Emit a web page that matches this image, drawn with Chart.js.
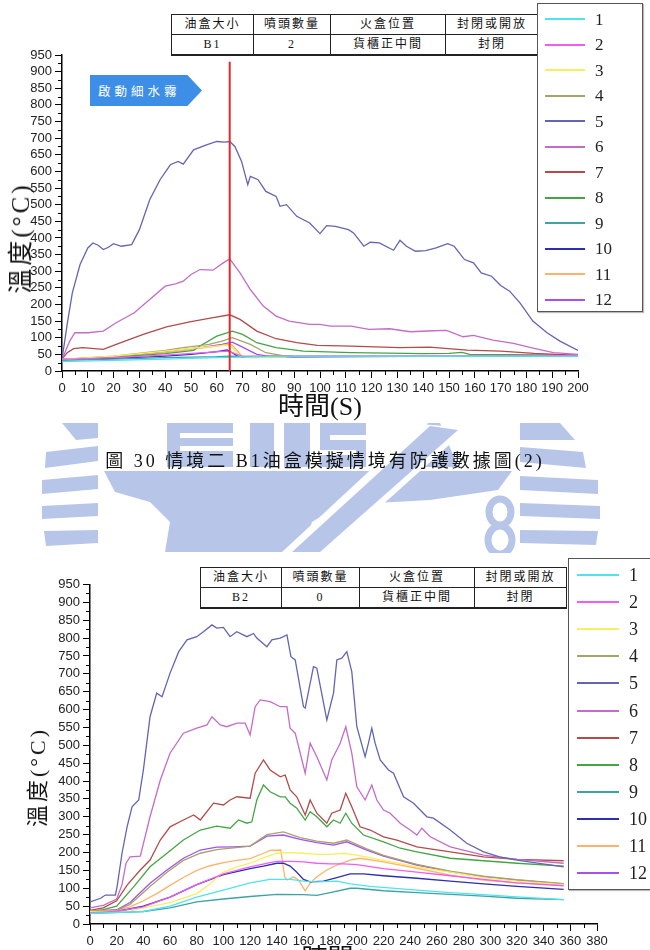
<!DOCTYPE html>
<html>
<head>
<meta charset="utf-8">
<script src="https://cdn.jsdelivr.net/npm/chart.js@4.4.1/dist/chart.umd.min.js"></script>
<style>
  html, body { margin: 0; padding: 0; background: #fff; width: 650px; height: 950px; overflow: hidden; }
  canvas { position: absolute; left: 0; }
  #wm { top: 0; z-index: 0; }
  #c1 { top: 0; z-index: 1; }
  #c2 { top: 540px; z-index: 1; }
  table.info { position: absolute; z-index: 2; border-collapse: collapse; background: #fff;
    font-family: "Liberation Serif", "Noto Sans CJK TC", serif; font-size: 12px; color: #111; }
  table.info td { border: 1px solid #222; text-align: center; height: 19px; padding: 0; letter-spacing: 2px; line-height: 17px; }
  table.info tr:first-child td { border-top: 1.5px solid #222; }
  table.info tr:last-child td { border-bottom: 2px solid #222; }
  .legend { position: absolute; z-index: 2; border: 1.5px solid #555; background: #fff; box-shadow: 1px 1px 1px #bbb; }
  .legend .sw { position: absolute; height: 2px; }
  .legend .lab { position: absolute; font-family: "Liberation Serif", serif; color: #222; line-height: 1; }
  .ytitle { position: absolute; z-index: 2; white-space: nowrap; transform: translate(-50%, -50%) rotate(-90deg);
    font-family: "Liberation Serif", "Noto Sans CJK TC", serif; color: #111; letter-spacing: 3px; }
  #caption { position: absolute; z-index: 2; left: 0; top: 446px; width: 650px; text-align: center;
    font-family: "Liberation Serif", "Noto Sans CJK TC", serif; font-size: 18px; letter-spacing: 3px; color: #111; }
  #spray { position: absolute; z-index: 2; left: 90px; top: 75px; width: 112px; height: 31px; background: #3d8ee6;
    clip-path: polygon(0 0, 87% 0, 100% 50%, 87% 100%, 0 100%); color: #fff; font-family: "Noto Sans CJK TC", sans-serif;
    font-size: 12.5px; line-height: 31px; padding-left: 8px; box-sizing: border-box; letter-spacing: 4px; }
</style>
</head>
<body>
<canvas id="wm" width="650" height="950"></canvas>
<canvas id="c1" width="650" height="430"></canvas>
<canvas id="c2" width="650" height="440"></canvas>
<div id="spray">啟動細水霧</div>
<div id="caption">圖 30 情境二 B1油盒模擬情境有防護數據圖(2)</div>

<script>
// ---- data ----
const seriesNames = ['1', '2', '3', '4', '5', '6', '7', '8', '9', '10', '11', '12'];
const tableHead = ['油盒大小', '噴頭數量', '火盒位置', '封閉或開放'];
const b1Row = ['B1', '2', '貨櫃正中間', '封閉'];
const b2Row = ['B2', '0', '貨櫃正中間', '封閉'];
const sprayLine = [[65, 0], [65, 930]];

// B1 (time s, temperature C)
const b1s1 = [[0,28],[20,32],[40,36],[60,40],[65,41],[70,42],[90,45],[200,44]];
const b1s2 = [[0,35],[20,40],[40,48],[55,55],[64,60],[66,55],[70,44],[200,46]];
const b1s3 = [[0,35],[20,45],[40,60],[50,68],[60,75],[64,78],[66,70],[69,45],[72,40],[86,42],[90,45],[200,46]];
const b1s4 = [[0,35],[20,45],[40,62],[47,70],[57,80],[62,90],[66,100],[73,80],[79,55],[85,47],[200,46]];
const b1s5 = [[0,35],[2,140],[4,235],[7,320],[10,370],[12,385],[14,378],[16,365],[18,372],[20,383],[23,375],[27,380],
  [30,425],[34,515],[38,575],[42,620],[45,630],[47,622],[51,665],[56,680],[60,690],[63,688],[65,690],[67,675],
  [69.6,630],[72,560],[73,585],[76,575],[79,540],[83,525],[84.5,495],[87,500],[91,465],[96,445],[100,413],
  [102.6,437],[106,435],[111,425],[113,415],[117,375],[119.5,387],[123,385],[128.5,363],[131,393],[133.5,375],
  [137,360],[141,362],[145,370],[149.5,383],[152,375],[156,335],[159.5,325],[162.5,295],[166.5,285],[170,257],
  [173.5,240],[177.5,205],[182.5,150],[188,115],[193,90],[200,62]];
const b1s6 = [[0,35],[3,90],[5,115],[10,115],[16,120],[21,145],[28,175],[34,215],[40,255],[44,262],[47,270],[50,290],
  [53.5,305],[58.5,303],[62.5,325],[65,337],[69,295],[73,245],[78,195],[83,165],[88,150],[96,140],[100,140],[104,135],
  [112,135],[119,125],[127,127],[135,118],[144,121],[149,122],[155.5,103],[159.5,107],[167,93],[175,83],[183,68],
  [190.5,55],[200,50]];
const b1s7 = [[0,35],[2,55],[4.5,67],[8,70],[16,65],[21,80],[31.5,110],[40.5,133],[49.5,148],[57.5,159],[65,169],
  [69,155],[75.5,120],[83,97],[91,85],[99,77],[112,75],[131,70],[142.5,72],[157,63],[170,60],[183,53],[200,47]];
const b1s8 = [[0,35],[20,42],[40,52],[47,58],[51,62],[53.5,75],[60,105],[66,120],[70,110],[75.5,85],[83,70],[93.5,60],
  [112,55],[140,52],[150,53],[155,56],[158,50],[200,48]];
const b1s9 = [[0,32],[20,36],[40,40],[60,43],[65,45],[70,44],[200,46]];
const b1s10 = [[0,35],[20,38],[40,45],[50,50],[60,58],[64,63],[66,55],[68,45],[70,42],[200,46]];
const b1s11 = [[0,35],[20,42],[40,55],[50,65],[60,75],[64,80],[66,78],[68,60],[70,42],[75,40],[90,45],[200,46]];
const b1s12 = [[0,35],[20,43],[40,58],[55,72],[62,80],[66,87],[70,72],[75.5,50],[80,45],[200,46]];

// B2 (time s, temperature C)
const b2s1 = [[0,30],[40,35],[60,50],[80,75],[100,95],[120,115],[135,125],[150,125],[160,120],[170,118],[185,120],
  [195,112],[210,105],[245,95],[270,88],[295,82],[320,76],[355,68]];
const b2s2 = [[0,32],[20,35],[40,48],[60,75],[80,110],[100,140],[120,160],[135,172],[140,175],[150,175],[160,174],
  [170,170],[180,168],[190,168],[200,166],[220,155],[245,145],[270,135],[295,125],[320,115],[355,107]];
const b2s3 = [[0,35],[30,36],[40,45],[60,60],[80,85],[90,112],[95,130],[100,145],[110,160],[120,170],[130,185],
  [140,198],[150,200],[160,198],[170,195],[180,195],[190,198],[200,193],[220,178],[245,160],[270,145],[295,130],
  [320,120],[355,110]];
const b2s4 = [[0,35],[20,38],[30,55],[45,105],[57.7,145],[70,178],[82.7,198],[95,208],[107.6,213],[120,218],
  [132.6,250],[145,258],[157.5,242],[170,232],[182.5,226],[192.5,235],[207.4,210],[220,192],[245,167],[270,148],
  [295,134],[320,124],[355,113]];
const b2s5 = [[0,62],[8,72],[11.5,81],[19,81],[20.3,104],[24,198],[27.8,272],[31.5,328],[36.5,347],[40,431],[45,580],
  [50,646],[54,636],[60,702],[66.5,762],[72.7,795],[80,804],[85,818],[91.4,837],[95,828],[100,830],[105,804],
  [110,818],[117.6,804],[122.6,813],[125,800],[132.6,776],[136.3,795],[142.6,800],[147.6,809],[150.6,748],
  [153.8,739],[160,608],[161.3,604],[167.5,720],[170,716],[177.5,571],[182.5,646],[185,739],[188.7,744],
  [192.5,762],[196.2,706],[200,552],[206.2,468],[208.7,506],[211.2,548],[213.7,506],[217.5,459],[223.7,431],
  [227.5,422],[235,356],[242.5,338],[252.5,300],[257.4,296],[270,263],[282.4,226],[295,202],[307,188],[320,179],
  [355,160]];
const b2s6 = [[0,45],[10,52],[20,70],[24,110],[27,170],[30,188],[37.7,190],[45,300],[52.7,403],[60,478],[70,534],
  [80,548],[87.7,557],[91.4,580],[97.6,557],[102.6,552],[110,562],[116.3,562],[120,529],[123.8,608],[127.6,627],
  [135,622],[142.6,608],[147.6,608],[150,548],[153.8,534],[161.3,422],[165,506],[170,468],[177.5,403],[181.2,459],
  [187.5,506],[191.7,552],[196.2,478],[200,384],[206.2,347],[211.2,389],[215,347],[220,319],[225,310],[232.5,282],
  [240,263],[245,249],[248.7,268],[255,244],[270,216],[295,193],[320,181],[355,170]];
const b2s7 = [[0,38],[10,45],[20,65],[27.8,109],[37.7,151],[45,179],[52.7,235],[60,272],[70,291],[77.7,305],
  [82.7,291],[92.6,338],[100,333],[105,347],[110,356],[120,352],[123.8,422],[130,459],[135,431],[142.6,412],
  [146.3,417],[150,375],[155,356],[161.3,305],[165,347],[170,310],[177.5,282],[181.2,310],[187.5,319],[191.7,366],
  [196.2,328],[202.4,272],[210,263],[220,244],[230,235],[245,216],[270,202],[295,188],[320,181],[355,177]];
const b2s8 = [[0,35],[10,40],[20,50],[32.7,104],[45,160],[57.7,198],[70,235],[82.7,263],[95,274],[105,268],
  [111.3,291],[117.6,282],[121.3,286],[125,347],[130,389],[135,370],[142.6,356],[146.3,356],[150,338],[155,324],
  [161.3,291],[165,314],[170,300],[177.5,272],[182.5,291],[187.5,282],[191.7,310],[196.2,282],[205,249],[220,230],
  [232.5,212],[245,202],[270,184],[295,177],[320,170],[355,162]];
const b2s9 = [[0,30],[40,35],[60,45],[80,62],[100,70],[120,77],[140,83],[160,82],[170,80],[180,88],[195,100],
  [200,100],[220,93],[245,88],[270,83],[295,78],[320,72],[355,68]];
const b2s10 = [[0,32],[20,35],[40,50],[60,75],[80,110],[100,138],[120,155],[130,162],[140,170],[145,170],[150,162],
  [155,145],[160,125],[165,118],[175,120],[185,130],[195,140],[205,140],[220,135],[245,128],[270,120],[295,112],
  [320,105],[355,97]];
const b2s11 = [[0,35],[20,38],[30,48],[40,65],[50,85],[60,108],[70,130],[80,150],[90,163],[100,172],[110,178],
  [120,183],[130,198],[135,206],[143,207],[146,130],[148,123],[152.5,132],[156.3,123],[161.3,93],[165,114],[170,132],
  [177.5,151],[185,165],[195,179],[202.4,184],[220,174],[245,156],[270,137],[295,123],[320,115],[355,109]];
const b2s12 = [[0,35],[20,40],[30,60],[45,114],[57.7,151],[70,184],[82.7,207],[95,215],[107.6,216],[120,218],
  [132.6,246],[145,249],[157.5,237],[170,228],[182.5,221],[192.5,230],[207.4,207],[220,190],[245,165],[270,146],
  [295,132],[320,123],[355,112]];

const b1Series = [b1s1, b1s2, b1s3, b1s4, b1s5, b1s6, b1s7, b1s8, b1s9, b1s10, b1s11, b1s12];
const b2Series = [b2s1, b2s2, b2s3, b2s4, b2s5, b2s6, b2s7, b2s8, b2s9, b2s10, b2s11, b2s12];

// ---- styles ----
const seriesColors = ['#4fe3f0', '#f25cf2', '#f7ef5e', '#a6a46a', '#6464b4', '#c46cc8',
  '#b34b4b', '#45a545', '#3fa3a3', '#2e2eb0', '#ffb26b', '#a451f0'];
const tickFont = { family: '"Liberation Sans Narrow", "Liberation Sans", sans-serif', size: 13 };
const titleFont = { family: '"Liberation Serif", "Noto Sans CJK TC", serif', size: 26 };

// minor tick marks between the labelled ones
const minorTicks = {
  id: 'minorTicks',
  afterDraw(chart, args, opts) {
    const { ctx, scales: { x, y } } = chart;
    ctx.save();
    ctx.strokeStyle = '#000';
    ctx.lineWidth = 1;
    ctx.beginPath();
    for (let v = opts.yStep / 2; v < y.max; v += opts.yStep) {
      const py = Math.round(y.getPixelForValue(v)) + 0.5;
      ctx.moveTo(x.left, py);
      ctx.lineTo(x.left - 4, py);
    }
    for (let v = opts.xStep / 2; v < x.max; v += opts.xStep) {
      const px = Math.round(x.getPixelForValue(v)) + 0.5;
      ctx.moveTo(px, y.bottom);
      ctx.lineTo(px, y.bottom + 4);
    }
    ctx.stroke();
    ctx.restore();
  }
};

function makeChart(id, series, extra, cfg) {
  const datasets = extra.concat(series.map((pts, i) => ({
    label: seriesNames[i],
    data: pts.map(([x, y]) => ({ x, y })),
    borderColor: seriesColors[i],
    borderWidth: 1.3,
    pointRadius: 0,
    fill: false
  })));
  return new Chart(document.getElementById(id), {
    type: 'line',
    data: { datasets },
    plugins: [minorTicks],
    options: {
      responsive: false,
      animation: false,
      devicePixelRatio: 1,
      layout: { padding: cfg.pad },
      plugins: {
        legend: { display: false },
        tooltip: { enabled: false },
        minorTicks: { xStep: cfg.xStep, yStep: 50 }
      },
      scales: {
        x: {
          type: 'linear', min: 0, max: cfg.xMax,
          grid: { display: true, drawOnChartArea: false, drawTicks: true, tickLength: 7, color: '#000' },
          border: { display: true, color: '#000', width: 1.5 },
          ticks: { stepSize: cfg.xStep, autoSkip: false, maxRotation: 0, minRotation: 0, padding: 3, color: '#222', font: tickFont },
          title: { display: true, text: '時間(S)', color: '#111', font: titleFont, padding: { top: 0, bottom: cfg.titlePad } },
          afterFit: (s) => { s.height = cfg.xHeight; }
        },
        y: {
          min: 0, max: 950,
          grid: { display: true, drawOnChartArea: false, drawTicks: true, tickLength: 7, color: '#000' },
          border: { display: true, color: '#000', width: 1.5 },
          ticks: { stepSize: 50, autoSkip: false, padding: 3, color: '#222', font: tickFont },
          afterFit: (s) => { s.width = cfg.yWidth; }
        }
      }
    }
  });
}

makeChart('c1', b1Series, [{
  label: 'spray',
  data: sprayLine.map(([x, y]) => ({ x, y })),
  borderColor: '#e02a2a', borderWidth: 2, pointRadius: 0, fill: false
}], { xMax: 200, xStep: 10, pad: { left: 0, top: 55, right: 72, bottom: 0 }, yWidth: 62, xHeight: 59, titlePad: 6 });

makeChart('c2', b2Series, [], { xMax: 380, xStep: 20, pad: { left: 0, top: 44.5, right: 53, bottom: 0 }, yWidth: 90, xHeight: 56, titlePad: 4 });

// ---- tables ----
function makeTable(left, top, widths, row) {
  const t = document.createElement('table');
  t.className = 'info';
  t.style.left = left + 'px';
  t.style.top = top + 'px';
  [tableHead, row].forEach(r => {
    const tr = document.createElement('tr');
    r.forEach((txt, i) => {
      const td = document.createElement('td');
      td.style.width = widths[i] + 'px';
      td.textContent = txt;
      tr.appendChild(td);
    });
    t.appendChild(tr);
  });
  document.body.appendChild(t);
}
makeTable(171, 14, [81, 76, 114, 92], b1Row);
makeTable(200, 567, [80, 77, 114, 91], b2Row);

// ---- legends ----
function makeLegend(left, top, w, h, first, gap, x0, x1, labX, size) {
  const box = document.createElement('div');
  box.className = 'legend';
  Object.assign(box.style, { left: left + 'px', top: top + 'px', width: w + 'px', height: h + 'px' });
  seriesNames.forEach((name, i) => {
    const cy = first + gap * i;
    const sw = document.createElement('div');
    sw.className = 'sw';
    Object.assign(sw.style, { left: x0 + 'px', width: (x1 - x0) + 'px', top: (cy - 1) + 'px', background: seriesColors[i] });
    const lab = document.createElement('div');
    lab.className = 'lab';
    lab.textContent = name;
    Object.assign(lab.style, { left: labX + 'px', top: (cy - size * 0.5) + 'px', fontSize: size + 'px' });
    box.appendChild(sw);
    box.appendChild(lab);
  });
  document.body.appendChild(box);
}
makeLegend(537, 3, 104, 307, 15, 25.5, 7, 47, 57, 17);
makeLegend(568, 558, 95, 330, 16, 27.1, 8, 50, 60, 18);

// ---- axis titles (vertical) ----
function yTitle(cx, cy, size) {
  const d = document.createElement('div');
  d.className = 'ytitle';
  d.textContent = '溫度(°C)';
  Object.assign(d.style, { left: cx + 'px', top: cy + 'px', fontSize: size + 'px' });
  document.body.appendChild(d);
}
yTitle(18, 238, 25);
yTitle(35, 777, 22);

// ---- faint university watermark behind the caption ----
(function () {
  const ctx = document.getElementById('wm').getContext('2d');
  const wmColor = '#b7c6e8';
  ctx.fillStyle = wmColor;
  const poly = (pts) => { ctx.beginPath(); pts.forEach(([x, y], i) => i ? ctx.lineTo(x, y) : ctx.moveTo(x, y)); ctx.closePath(); ctx.fill(); };
  // left stripes
  poly([[62, 423], [98, 423], [98, 438], [76, 440]]);
  poly([[46, 452], [98, 446], [98, 461], [45, 468]]);
  poly([[42, 480], [98, 475], [98, 489], [42, 494]]);
  poly([[42, 506], [98, 503], [98, 516], [42, 519]]);
  poly([[44, 531], [98, 530], [98, 543], [46, 546]]);
  // right stripes
  poly([[520, 423], [560, 423], [575, 440], [520, 440]]);
  poly([[520, 447], [583, 452], [586, 468], [520, 462]]);
  poly([[520, 476], [598, 480], [598, 494], [520, 490]]);
  poly([[520, 503], [600, 506], [600, 519], [520, 516]]);
  poly([[520, 530], [598, 531], [596, 545], [520, 543]]);
  // letters row
  ctx.fillRect(167, 423, 66, 44);
  ctx.fillRect(250, 423, 24, 44);
  ctx.fillRect(284, 423, 26, 44);
  ctx.fillRect(320, 423, 46, 44);
  poly([[396, 467], [428, 423], [440, 423], [458, 467]]);
  ctx.fillStyle = '#fff';
  ctx.fillRect(180, 433, 53, 5);
  ctx.fillRect(180, 446, 53, 5);
  ctx.fillRect(330, 435, 36, 5);
  ctx.fillRect(320, 450, 36, 5);
  ctx.fillStyle = wmColor;
  // anvil body
  poly([[104, 471], [512, 471], [498, 490], [430, 500], [340, 505], [312, 522], [302, 552], [165, 552], [170, 522],
    [150, 502], [115, 492]]);
  // diagonal bar
  ctx.fillStyle = '#fff';
  poly([[282, 552], [330, 552], [468, 428], [420, 424]]);
  ctx.fillStyle = wmColor;
  poly([[292, 552], [320, 552], [458, 430], [430, 426]]);
  // "8"
  ctx.strokeStyle = wmColor;
  ctx.lineWidth = 7;
  ctx.beginPath(); ctx.ellipse(500, 512, 11, 13, 0, 0, Math.PI * 2); ctx.stroke();
  ctx.beginPath(); ctx.ellipse(500, 540, 12, 14, 0, 0, Math.PI * 2); ctx.stroke();
  ctx.clearRect(0, 553, 650, 400);
})();
</script>
</body>
</html>
